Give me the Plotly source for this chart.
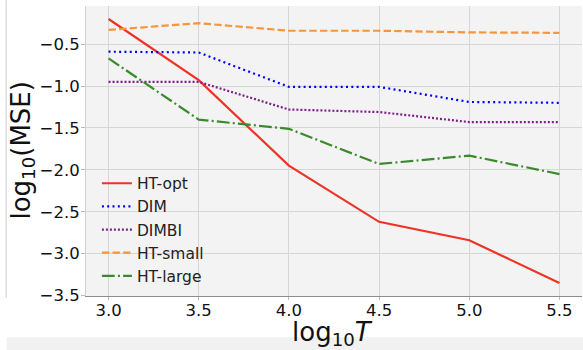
import plotly.graph_objects as go

log_T = [3.0, 3.5, 4.0, 4.5, 5.0, 5.5]
ht_opt = [-0.20, -0.93, -1.95, -2.62, -2.84, -3.35]
dim = [-0.59, -0.60, -1.01, -1.01, -1.19, -1.20]
dimbi = [-0.95, -0.95, -1.28, -1.31, -1.43, -1.43]
ht_small = [-0.33, -0.25, -0.34, -0.34, -0.36, -0.365]
ht_large = [-0.67, -1.40, -1.51, -1.93, -1.83, -2.05]

x_ticks = [3.0, 3.5, 4.0, 4.5, 5.0, 5.5]
y_ticks = [-0.5, -1.0, -1.5, -2.0, -2.5, -3.0, -3.5]

series = [
    ("HT-opt", ht_opt, "#ee3326", "solid"),
    ("DIM", dim, "#0000ff", "2px,3.3px"),
    ("DIMBI", dimbi, "#7f1f8a", "2px,2px"),
    ("HT-small", ht_small, "#f7953a", "7.4px,3.2px"),
    ("HT-large", ht_large, "#3a8a2c", "12.8px,3.2px,2px,3.2px"),
]

fig = go.Figure()
for name, vals, color, dash in series:
    fig.add_trace(go.Scatter(
        x=log_T, y=vals, mode="lines", name=name, legendgroup=name,
        line=dict(color=color, width=2.2, dash=dash),
    ))

font_family = "DejaVu Sans"
fig.update_layout(
    width=583, height=350,
    margin=dict(l=86, r=1, t=6, b=54, autoexpand=False),
    paper_bgcolor="white",
    plot_bgcolor="#f3f3f3",
    font=dict(family=font_family, color="#111111", size=16),
    showlegend=True,
    legend=dict(
        x=0.022, y=0.446, xanchor="left", yanchor="top",
        bgcolor="rgba(0,0,0,0)", borderwidth=0,
        font=dict(family=font_family, size=15.5, color="#222222"),
        tracegroupgap=0, traceorder="grouped",
    ),
    xaxis=dict(
        range=[2.875, 5.625], tickvals=x_ticks,
        ticktext=[f"{v:.1f}" for v in x_ticks],
        showgrid=True, gridcolor="#d6d6d6", gridwidth=1,
        zeroline=False, showline=True, linecolor="#8c8c8c", linewidth=1,
        ticks="outside", ticklen=3, tickcolor="#bbbbbb", automargin=False,
        ticklabelstandoff=-4,
        tickfont=dict(family=font_family, size=16.5, color="#111111"),
    ),
    yaxis=dict(
        range=[-3.505, -0.045], tickvals=y_ticks,
        ticktext=[f"\u2212{abs(v):.1f}" for v in y_ticks],
        showgrid=True, gridcolor="#d6d6d6", gridwidth=1,
        zeroline=False, showline=True, linecolor="#d0d0d0", linewidth=1,
        ticks="outside", ticklen=4, tickcolor="#bbbbbb", automargin=False,
        ticklabelstandoff=-2,
        tickfont=dict(family=font_family, size=16.5, color="#111111"),
    ),
    annotations=[
        dict(text="log<sub>10</sub><i>T</i>", xref="paper", yref="paper",
             x=0.497, y=-0.066, xanchor="center", yanchor="top", showarrow=False,
             font=dict(family=font_family, size=26, color="#111111")),
        dict(text="log<sub>10</sub>(MSE)", xref="paper", yref="paper",
             x=-0.13, y=0.5, xanchor="center", yanchor="middle", showarrow=False,
             textangle=-90,
             font=dict(family=font_family, size=26, color="#111111")),
    ],
    shapes=[
        dict(type="rect", xref="paper", yref="paper",
             x0=-0.16, x1=1.002, y0=-0.186, y1=-0.142,
             fillcolor="#f1f1f1", line=dict(width=0), layer="below"),
        dict(type="line", xref="paper", yref="paper",
             x0=-0.161, x1=-0.161, y0=-0.007, y1=1.02,
             line=dict(color="#cccccc", width=1)),
    ],
)

fig.write_html(
    "out.html",
    config={"displayModeBar": False},
    post_script="document.body.style.margin='0';document.body.style.padding='0';",
)
